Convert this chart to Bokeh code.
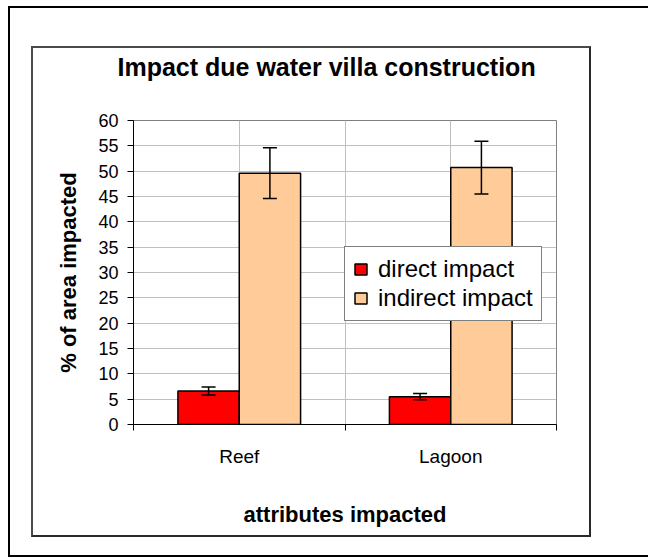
import numpy as np
from bokeh.plotting import figure
from bokeh.models import (ColumnDataSource, Whisker, TeeHead, FixedTicker, Legend,
                          LegendItem, Range1d)
from bokeh.embed import file_html
from bokeh.resources import INLINE

# ---- data ----
categories = ["Reef", "Lagoon"]
series_names = ["direct impact", "indirect impact"]
direct = [6.6, 5.5]
direct_err = [0.8, 0.6]
indirect = [49.6, 50.7]
indirect_err = [5.0, 5.2]
y_ticks = list(range(0, 61, 5))
title_text = "Impact due water villa construction"
x_title = "attributes impacted"
y_title = "% of area impacted"

FONT = "Liberation Sans"
n = len(categories)
W, H = 648, 557

# decorative page frame + chart-area box, drawn with CSS pseudo-elements
frame_css = f"""
:host {{ position: relative; }}
:host::before {{
  content: ""; position: absolute; left: 8px; top: 6px;
  width: {W - 10}px; height: {H - 10}px;
  border-left: 2px solid #000; border-top: 2px solid #000; border-bottom: 2px solid #000;
  pointer-events: none; box-sizing: content-box;
}}
:host::after {{
  content: ""; position: absolute; left: 31px; top: 46px;
  width: 556px; height: 487px;
  border: 2px solid #4a4a4a; border-right-color: #2a2a2a; border-bottom-color: #2a2a2a;
  pointer-events: none; box-sizing: content-box;
}}
"""

p = figure(width=W, height=H, x_range=Range1d(0, n), y_range=Range1d(0, 60),
           output_backend="svg", toolbar_location=None,
           min_border_left=133, min_border_right=W - 556, min_border_top=120,
           min_border_bottom=H - 424, title=title_text, stylesheets=[frame_css])
p.background_fill_color = "white"
p.border_fill_color = None
p.outline_line_color = "#808080"
p.outline_line_width = 1

centers = np.arange(n) + 0.5
bw = 0.29
off = 0.145

d = np.array(direct)
de = np.array(direct_err)
ind = np.array(indirect)
inde = np.array(indirect_err)

src_d = ColumnDataSource(dict(x=centers - off, top=d, upper=d + de, lower=d - de))
src_i = ColumnDataSource(dict(x=centers + off, top=ind, upper=ind + inde, lower=ind - inde))

r1 = p.vbar(x="x", top="top", width=bw, source=src_d, fill_color="#FF0000",
            line_color="black", line_width=1.5)
r2 = p.vbar(x="x", top="top", width=bw, source=src_i, fill_color="#FFCC99",
            line_color="black", line_width=1.5)

for src in (src_d, src_i):
    w = Whisker(source=src, base="x", upper="upper", lower="lower", dimension="height",
                line_color="black", line_width=1.5, level="overlay",
                upper_head=TeeHead(size=14, line_color="black", line_width=1.5),
                lower_head=TeeHead(size=14, line_color="black", line_width=1.5))
    p.add_layout(w)

# grids
p.ygrid.ticker = FixedTicker(ticks=y_ticks)
p.ygrid.grid_line_color = "#c0c0c0"
grid_x = sorted(list(centers) + list(range(1, n)))
p.xgrid.ticker = FixedTicker(ticks=grid_x)
p.xgrid.grid_line_color = "#c0c0c0"

# x axis
xa = p.xaxis[0]
xa.ticker = FixedTicker(ticks=list(centers), minor_ticks=list(range(0, n + 1)))
xa.major_label_overrides = {float(c): name for c, name in zip(centers, categories)}
xa.major_tick_out = 0
xa.major_tick_in = 0
xa.minor_tick_out = 6
xa.minor_tick_in = 0
xa.minor_tick_line_color = "black"
xa.axis_line_color = "black"
xa.major_label_text_font = FONT
xa.major_label_text_font_size = "19px"
xa.major_label_text_color = "black"
xa.major_label_standoff = 15
xa.axis_label = x_title
xa.axis_label_text_font = FONT
xa.axis_label_text_font_size = "22px"
xa.axis_label_text_font_style = "bold"
xa.axis_label_text_color = "black"
xa.axis_label_standoff = 32

# y axis
ya = p.yaxis[0]
ya.ticker = FixedTicker(ticks=y_ticks, minor_ticks=[])
ya.major_tick_out = 6
ya.major_tick_in = 0
ya.major_tick_line_color = "black"
ya.minor_tick_line_color = None
ya.axis_line_color = "black"
ya.major_label_text_font = FONT
ya.major_label_text_font_size = "18px"
ya.major_label_text_color = "black"
ya.major_label_standoff = 9
ya.axis_label = y_title
ya.axis_label_text_font = FONT
ya.axis_label_text_font_size = "22px"
ya.axis_label_text_font_style = "bold"
ya.axis_label_text_color = "black"
ya.axis_label_standoff = 14

# title
p.title.text_font = FONT
p.title.text_font_size = "25px"
p.title.text_font_style = "bold"
p.title.text_color = "black"
p.title.align = "left"
p.title.offset = -16
p.title.standoff = 80

# legend
legend = Legend(items=[LegendItem(label=series_names[0], renderers=[r1]),
                       LegendItem(label=series_names[1], renderers=[r2])],
                location=(211, 103), border_line_color="black", border_line_width=1,
                background_fill_color="white", background_fill_alpha=1,
                label_text_font=FONT, label_text_font_size="24px",
                label_text_color="black", glyph_width=15, glyph_height=14,
                label_standoff=10, padding=8, spacing=1, margin=0)
p.add_layout(legend)

open("out.html", "w").write(file_html(p, INLINE))
